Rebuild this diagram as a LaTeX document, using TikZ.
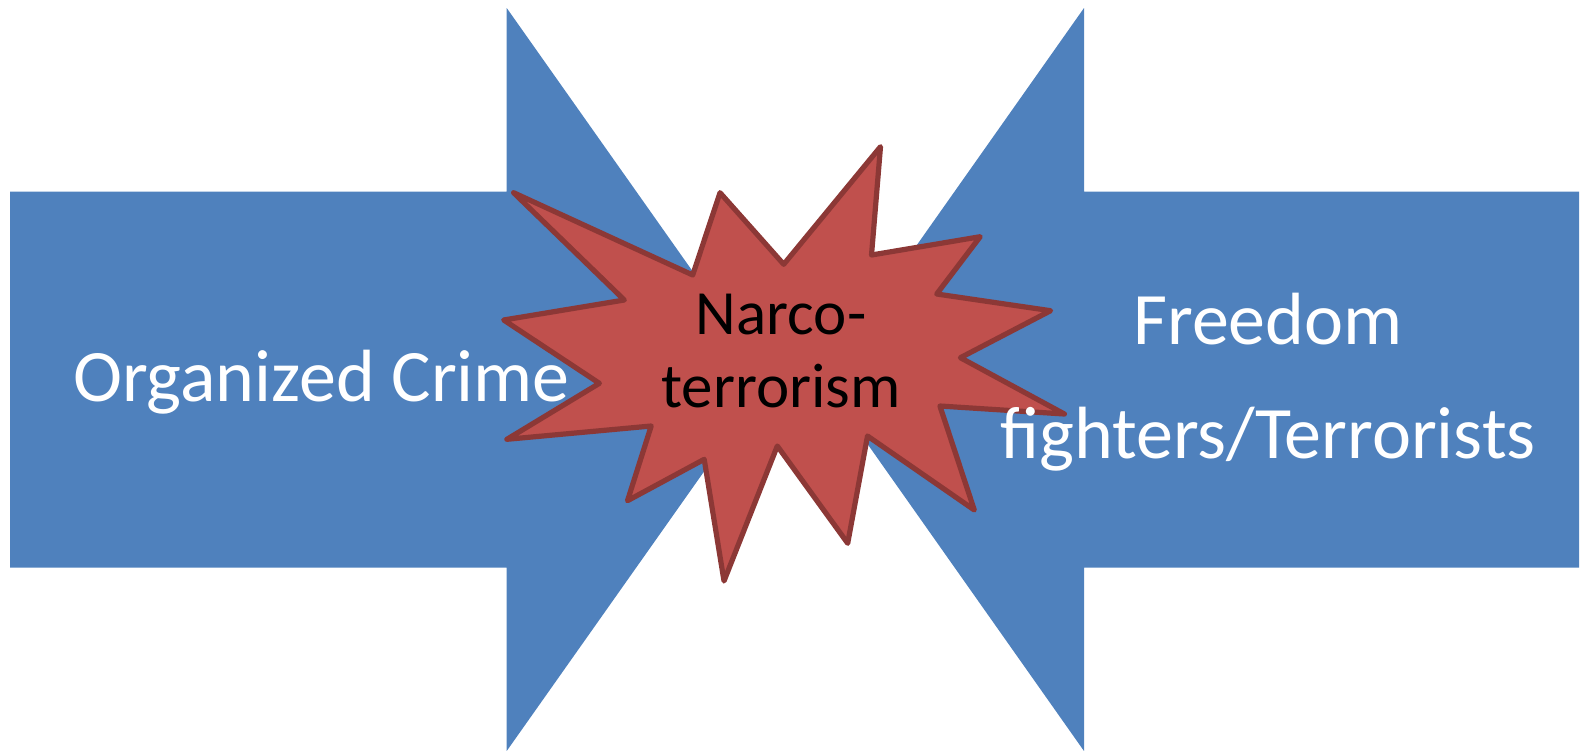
\documentclass[tikz,border=0pt]{standalone}
\usepackage{fontspec}
\setmainfont{Carlito}
\definecolor{arrowblue}{HTML}{4F81BD}
\definecolor{boomred}{HTML}{C0504D}
\definecolor{boomedge}{HTML}{8C3836}

\begin{document}
\begin{tikzpicture}[x=0.5pt, y=-0.5pt,
  arrowshape/.style={fill=arrowblue},
  boom/.style={draw=boomedge, fill=boomred, line width=2.6pt, line join=round},
  textlabel/.style={text=white, align=center, anchor=base, inner sep=0pt}]
\useasboundingbox (0,0) rectangle (1589,750);

% the two arrows
\fill[arrowshape] (10,191.5)--(506.7,191.5)--(506.7,8)--(769,379.5)--(506.7,751)--(506.7,567.5)--(10,567.5)--cycle;
\fill[arrowshape] (1579,191.5)--(1084,191.5)--(1084,8)--(822,379.5)--(1084,751)--(1084,567.5)--(1579,567.5)--cycle;

% explosion
\draw[boom] (513.6,192.7)--(692.7,275)--(720,192.7)--(783.7,264.3)--(880.5,146.7)--(871.5,255)
  --(980.2,236.7)--(936.7,294)--(1050.6,310.7)--(960.4,357.7)--(1064.4,414)--(939.9,406)
  --(974.3,510)--(867.5,436)--(847.7,543.3)--(777.3,446)--(724,581)--(704.2,459.3)
  --(627.5,500.7)--(651.2,426)--(506.9,439.3)--(599.4,383.3)--(503.7,320)--(624.3,300)--cycle;

\node[textlabel, font=\fontsize{37}{45}\selectfont] (crime) at (321.5,401.7) {Organized Crime};
\node[textlabel, font=\fontsize{37}{57}\selectfont] (fighters) at (1268,458) {Freedom\\fighters/Terrorists};
\node[textlabel, text=black, font=\fontsize{31.5}{36.5}\selectfont] (narco) at (781,407) {Narco-\\terrorism};
\end{tikzpicture}
\end{document}
